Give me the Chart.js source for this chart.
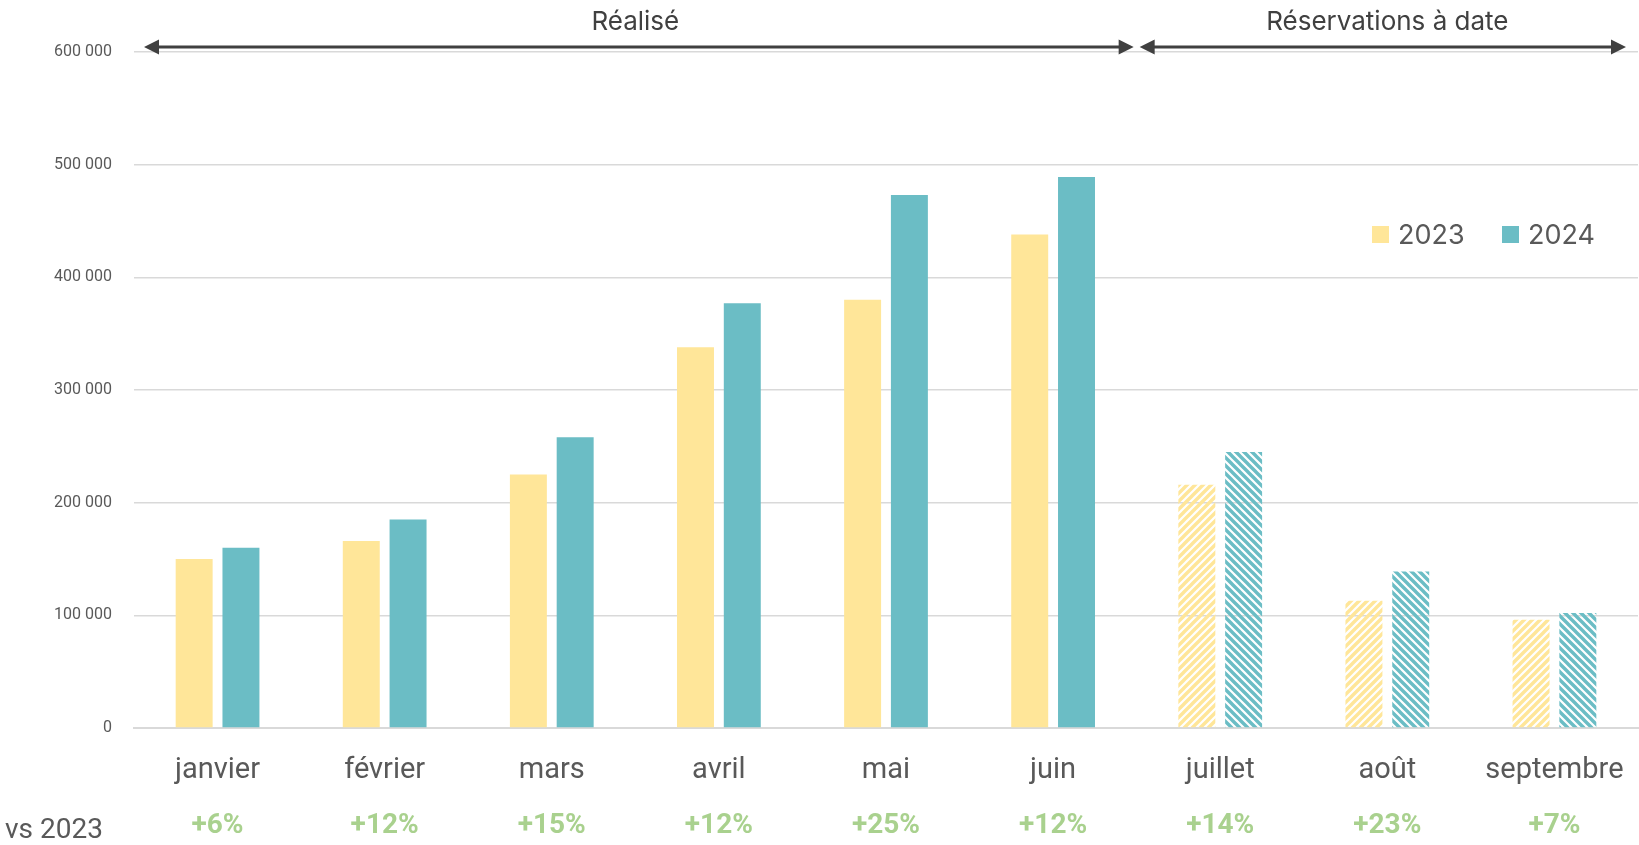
<!DOCTYPE html>
<html>
<head>
<meta charset="utf-8">
<script src="https://cdn.jsdelivr.net/npm/chart.js@4.4.1/dist/chart.umd.min.js"></script>
<style>
  html, body { margin: 0; padding: 0; background: #ffffff; }
</style>
</head>
<body>
<canvas id="ventes" width="1639" height="845"></canvas>
<script>
// Data
const categories = ["janvier", "février", "mars", "avril", "mai", "juin", "juillet", "août", "septembre"];
const sales2023 = [150000, 166000, 225000, 338000, 380000, 438000, 216000, 113000, 96000];
const sales2024 = [160000, 185000, 258000, 377000, 473000, 489000, 245000, 139000, 102000];
const growthLabels = ["+6%", "+12%", "+15%", "+12%", "+25%", "+12%", "+14%", "+23%", "+7%"];
const seriesNames = ["2023", "2024"];
const yMax = 600000;
const yStep = 100000;
const firstBookingIndex = 6; // juillet onwards = "Réservations à date"

const yellow = "#FFE699";
const teal = "#6BBDC5";
const textGrey = "#595959";
const narrow = "'Roboto', sans-serif";
const regular = "'Inter', 'Open Sans', sans-serif";

// Hatched pattern for the booking months
function makeHatch(color, dir) {
    const c = document.createElement("canvas");
    c.width = 8; c.height = 8;
    const g = c.getContext("2d");
    g.strokeStyle = color;
    g.lineWidth = 3.4;
    g.beginPath();
    if (dir > 0) {
        g.moveTo(-2, 10); g.lineTo(10, -2);
        g.moveTo(-6, 6); g.lineTo(6, -6);
        g.moveTo(2, 14); g.lineTo(14, 2);
    } else {
        g.moveTo(-2, -2); g.lineTo(10, 10);
        g.moveTo(-6, 2); g.lineTo(6, 14);
        g.moveTo(2, -6); g.lineTo(14, 6);
    }
    g.stroke();
    return g.createPattern(c, "repeat");
}

const hatch2023 = makeHatch(yellow, 1);
const hatch2024 = makeHatch(teal, -1);
const colors2023 = categories.map((c, i) => i >= firstBookingIndex ? hatch2023 : yellow);
const colors2024 = categories.map((c, i) => i >= firstBookingIndex ? hatch2024 : teal);

function arrow(ctx, x1, x2, y) {
    const head = 15, half = 7.5;
    ctx.beginPath();
    ctx.moveTo(x1 + head - 2, y);
    ctx.lineTo(x2 - head + 2, y);
    ctx.stroke();
    ctx.beginPath();
    ctx.moveTo(x1, y); ctx.lineTo(x1 + head, y - half); ctx.lineTo(x1 + head, y + half); ctx.closePath();
    ctx.moveTo(x2, y); ctx.lineTo(x2 - head, y - half); ctx.lineTo(x2 - head, y + half); ctx.closePath();
    ctx.fill();
}

// Annotations: arrows on top, legend, growth row
const extras = {
    id: "extras",
    afterDraw(chart) {
        const ctx = chart.ctx;
        const area = chart.chartArea;
        const x = chart.scales.x;
        const boundary = (x.getPixelForValue(firstBookingIndex - 1) + x.getPixelForValue(firstBookingIndex)) / 2;
        const arrowY = area.top - 5;
        ctx.save();
        ctx.strokeStyle = "#404040";
        ctx.fillStyle = "#404040";
        ctx.lineWidth = 3;
        arrow(ctx, area.left + 10, boundary - 3, arrowY);
        arrow(ctx, boundary + 3, area.right - 12, arrowY);

        ctx.fillStyle = "#404040";
        ctx.font = "26px " + regular;
        ctx.textAlign = "center";
        ctx.textBaseline = "middle";
        ctx.fillText("Réalisé", (area.left + boundary) / 2, 22);
        ctx.fillText("Réservations à date", (boundary + area.right) / 2, 22);

        // legend
        ctx.font = "27px " + regular;
        ctx.textAlign = "left";
        const legendX = [1372, 1502];
        chart.data.datasets.forEach((ds, i) => {
            ctx.fillStyle = i === 0 ? yellow : teal;
            ctx.fillRect(legendX[i], 226, 17, 17);
            ctx.fillStyle = textGrey;
            ctx.fillText(ds.label, legendX[i] + 26, 236);
        });

        // growth row
        ctx.font = "bold 28px " + narrow;
        ctx.textAlign = "center";
        ctx.fillStyle = "#A9D18E";
        growthLabels.forEach((g, i) => {
            ctx.fillText(g, x.getPixelForValue(i), 826);
        });
        ctx.font = "28px " + narrow;
        ctx.textAlign = "left";
        ctx.fillStyle = textGrey;
        ctx.fillText("vs 2023", 5, 831);
        ctx.restore();
    }
};

const ctx = document.getElementById("ventes").getContext("2d");
new Chart(ctx, {
    type: "bar",
    data: {
        labels: categories,
        datasets: [{
            label: seriesNames[0],
            data: sales2023,
            backgroundColor: colors2023,
            borderWidth: 0
        }, {
            label: seriesNames[1],
            data: sales2024,
            backgroundColor: colors2024,
            borderWidth: 0
        }]
    },
    options: {
        responsive: false,
        animation: false,
        layout: { padding: { top: 52, right: 1, left: 0, bottom: 0 } },
        categoryPercentage: 0.56,
        barPercentage: 0.79,
        plugins: {
            legend: { display: false },
            tooltip: { enabled: false }
        },
        scales: {
            x: {
                grid: { display: false, drawTicks: false },
                border: { color: "#d9d9d9", width: 2 },
                ticks: {
                    color: textGrey,
                    padding: 25,
                    font: { family: narrow, size: 29 }
                },
                afterFit: function (scale) {
                    scale.height = 117;
                    scale.paddingLeft = 0;
                    scale.paddingRight = 0;
                }
            },
            y: {
                min: 0,
                max: yMax,
                grid: { color: "#d9d9d9", lineWidth: 1.5, drawTicks: false },
                border: { display: false },
                ticks: {
                    stepSize: yStep,
                    color: textGrey,
                    padding: 22,
                    font: { family: narrow, size: 16 },
                    callback: function (value) {
                        return String(value).replace(/\B(?=(\d{3})+(?!\d))/g, " ");
                    }
                },
                afterFit: function (scale) { scale.width = 134; }
            }
        }
    },
    plugins: [extras]
});
</script>
</body>
</html>
